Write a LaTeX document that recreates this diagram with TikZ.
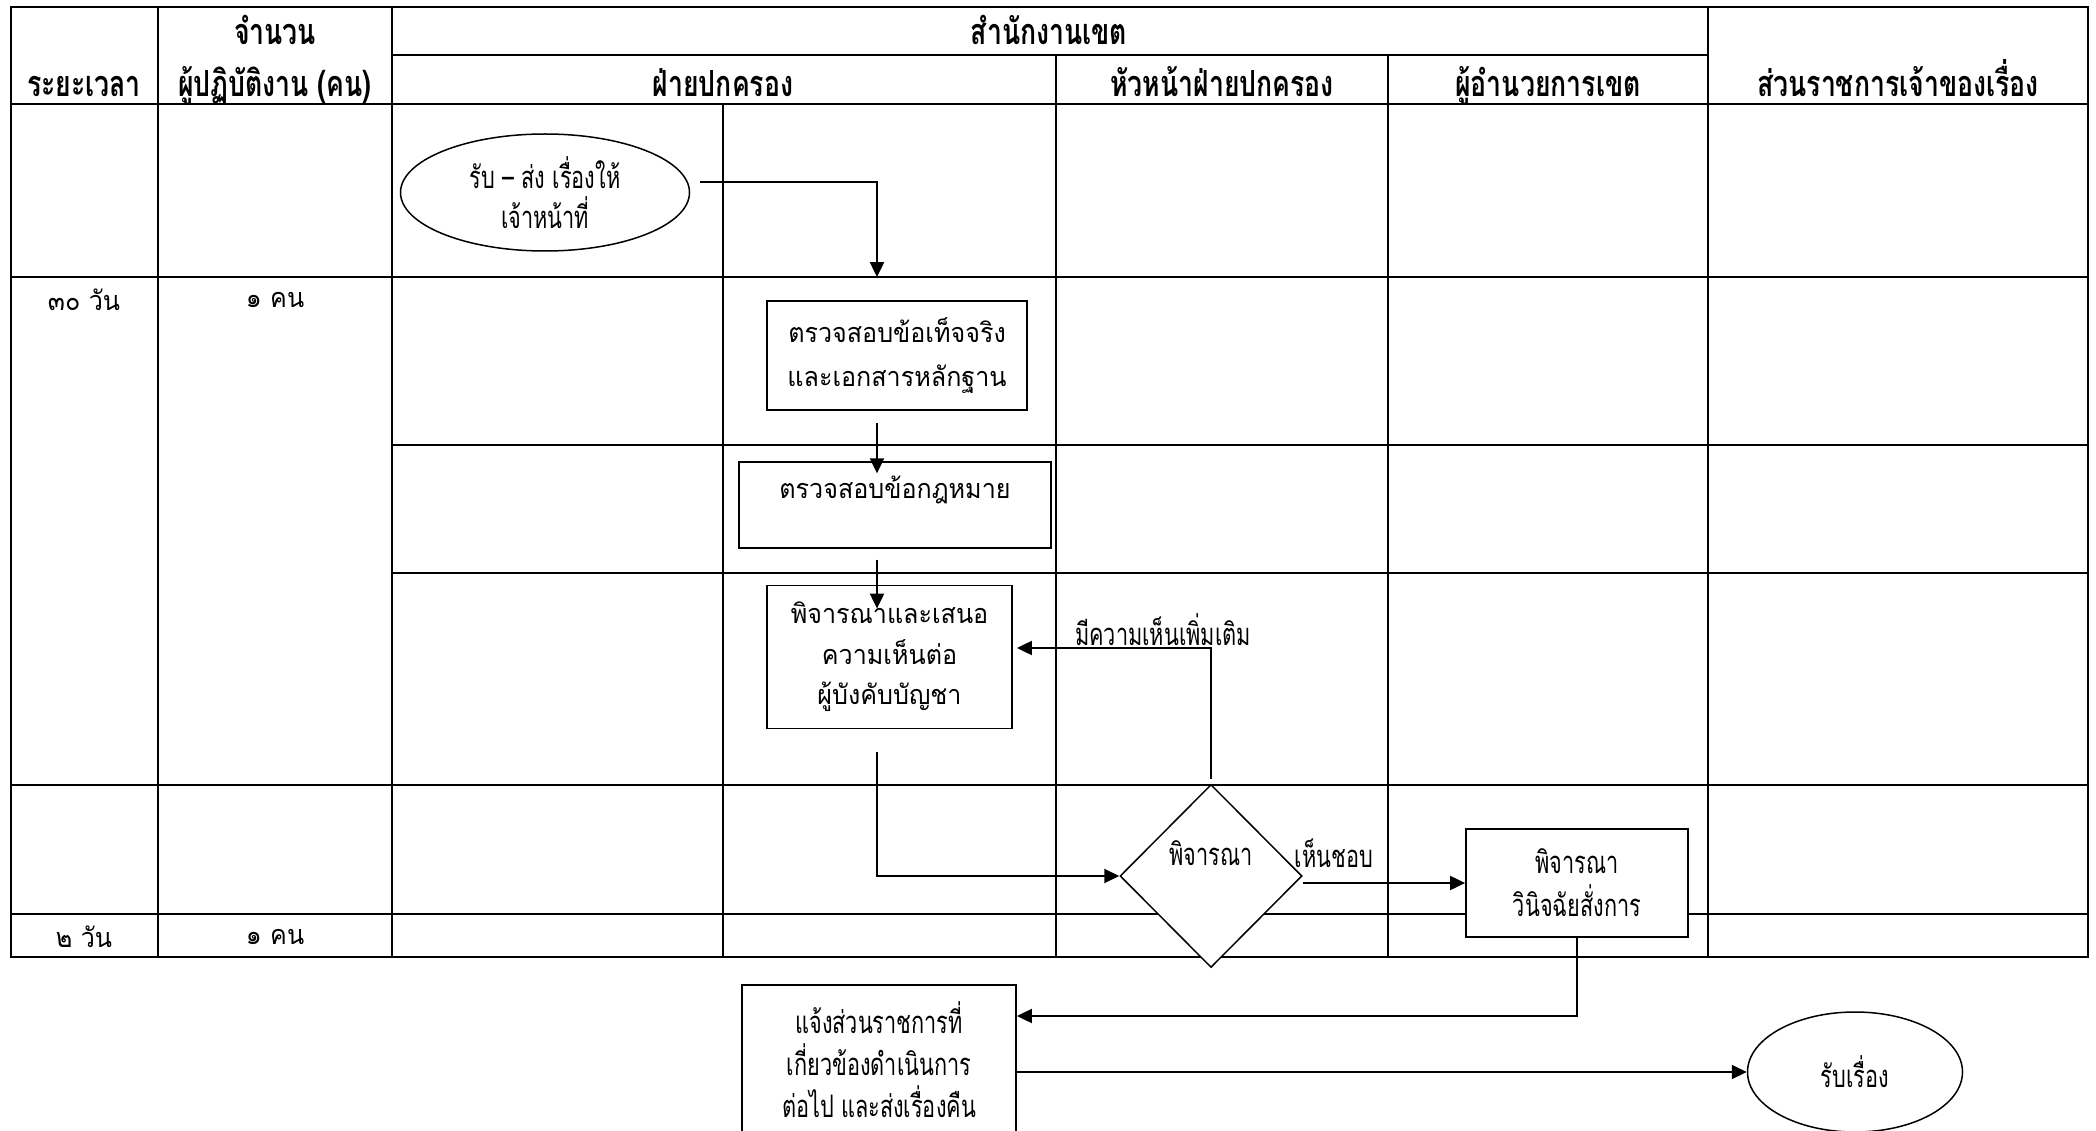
\documentclass[tikz,border=0pt]{standalone}
\usepackage{fontspec}
\setmainfont[Script=Thai]{Loma}
\newfontfamily\thaicond[Script=Thai,FakeStretch=0.7]{Loma}
\newfontfamily\thaihead[Script=Thai,FakeStretch=0.74]{Loma}
\newfontfamily\thailoop[Script=Thai,FakeStretch=0.93]{Loma}
\usetikzlibrary{shapes.geometric,arrows.meta}
\tikzset{
  grid/.style={line width=2.2pt},
  hdr/.style={font=\thaihead\bfseries\fontsize{36}{40}\selectfont, inner sep=0pt, text height=25pt, text depth=7pt},
  cell/.style={font=\thailoop\fontsize{27}{30}\selectfont, inner sep=0pt},
  loopbox/.style={draw, fill=white, line width=1.8pt, align=center, font=\thailoop\fontsize{27}{44}\selectfont, inner sep=0pt},
  condbox/.style={draw, fill=white, line width=1.8pt, align=center, font=\thaicond\fontsize{31}{43}\selectfont, inner sep=0pt},
  arr/.style={line width=2pt, -{Triangle[length=15pt,width=14pt]}},
  lbl/.style={font=\thaicond\fontsize{31}{34}\selectfont, inner sep=0pt},
}
\begin{document}
\begin{tikzpicture}[x=1pt,y=-1pt]
\clip (0,0) rectangle (2096,1131);
\fill[white] (0,0) rectangle (2096,1131);

% table grid
\draw[grid] (11,7) rectangle (2088,957);
\draw[grid] (158,7) -- (158,957) (392,7) -- (392,957) (1708,7) -- (1708,957);
\draw[grid] (723,104) -- (723,957) (1056,55) -- (1056,957) (1388,55) -- (1388,957);
\draw[grid] (392,55) -- (1708,55);
\draw[grid] (11,104) -- (2088,104) (11,277) -- (2088,277) (11,785) -- (2088,785) (11,914) -- (2088,914);
\draw[grid] (392,445) -- (2088,445) (392,573) -- (2088,573);

% header texts
\node[hdr] (h1) at (84,88) {ระยะเวลา};
\node[hdr] (h2) at (275,36) {จำนวน};
\node[hdr] (h3) at (275,88) {ผู้ปฏิบัติงาน (คน)};
\node[hdr] (h4) at (1049,36) {สำนักงานเขต};
\node[hdr] (h5) at (723,88) {ฝ่ายปกครอง};
\node[hdr] (h6) at (1222,88) {หัวหน้าฝ่ายปกครอง};
\node[hdr] (h7) at (1548,88) {ผู้อำนวยการเขต};
\node[hdr] (h8) at (1898,88) {ส่วนราชการเจ้าของเรื่อง};

% row texts
\node[cell] (r1) at (84,300) {๓๐ วัน};
\node[cell] (r2) at (275,300) {๑ คน};
\node[cell] (r3) at (84,937) {๒ วัน};
\node[cell] (r4) at (275,937) {๑ คน};

% flow nodes
\node[ellipse, draw, fill=white, line width=1.5pt, minimum width=289pt, minimum height=117pt, align=center, inner sep=0pt, font=\thaicond\fontsize{31}{40}\selectfont] (e1) at (545,192.5) {รับ – ส่ง เรื่องให้\\เจ้าหน้าที่};
\node[loopbox, minimum width=260pt, minimum height=109pt] (b1) at (897,355.5) {ตรวจสอบข้อเท็จจริง\\และเอกสารหลักฐาน};
\node[loopbox, minimum width=312pt, minimum height=85.5pt, text height=19pt, text depth=33pt] (b2) at (895,505) {ตรวจสอบข้อกฎหมาย};
\node[loopbox, minimum width=245pt, minimum height=143pt, font=\thailoop\fontsize{27}{40.5}\selectfont] (b3) at (889.5,657) {พิจารณาและเสนอ\\ความเห็นต่อ\\ผู้บังคับบัญชา};
\node[diamond, draw, fill=white, line width=1.5pt, aspect=1, minimum width=182pt, minimum height=183pt, inner sep=0pt, text height=22pt, text depth=44pt, font=\thaicond\fontsize{31}{34}\selectfont] (d) at (1211,876) {พิจารณา};
\node[condbox, minimum width=222pt, minimum height=108pt] (b4) at (1577,883) {พิจารณา\\วินิจฉัยสั่งการ};
\node[condbox, minimum width=274pt, minimum height=150pt, font=\thaicond\fontsize{31}{42}\selectfont] (b5) at (879,1060) {แจ้งส่วนราชการที่\\เกี่ยวข้องดำเนินการ\\ต่อไป และส่งเรื่องคืน};
\node[ellipse, draw, fill=white, line width=1.5pt, minimum width=215pt, minimum height=120pt, inner sep=0pt, font=\thaicond\fontsize{31}{34}\selectfont] (c) at (1855,1072) {รับเรื่อง};

% labels
\node[lbl] (l1) at (1163,630) {มีความเห็นเพิ่มเติม};
\node[lbl] (l2) at (1334,853) {เห็นชอบ};

% connectors
\draw[arr] ([xshift=10pt,yshift=10.5pt]e1.east) -| ([xshift=-20pt,yshift=23pt]b1.north);
\draw[arr] ([xshift=-20pt,yshift=-12pt]b1.south) -- ([xshift=-18pt,yshift=-12pt]b2.north);
\draw[arr] ([xshift=-18pt,yshift=-11pt]b2.south) -- ([xshift=-12.5pt,yshift=-24pt]b3.north);
\draw[arr] ([xshift=-12.5pt,yshift=-22.5pt]b3.south) |- (d.west);
\draw[arr] ([yshift=5pt]d.north) |- ([xshift=4pt,yshift=9pt]b3.east);
\draw[arr] (d.east |- b4.west) -- (b4.west);
\draw[arr] (b4.south) |- ([yshift=44pt]b5.east);
\draw[arr] ([yshift=-12pt]b5.east) -- (c.west);
\end{tikzpicture}
\end{document}
